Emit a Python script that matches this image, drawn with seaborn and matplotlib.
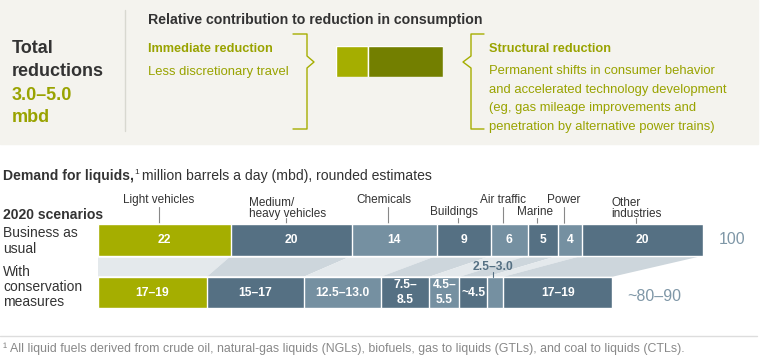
import matplotlib
matplotlib.use("Agg")
import matplotlib.pyplot as plt
import seaborn as sns
import numpy as np
from matplotlib.patches import Rectangle, Polygon

# ---- data ----
sectors = ["Light vehicles", "Medium/\nheavy vehicles", "Chemicals", "Buildings",
           "Air traffic", "Marine", "Power", "Other\nindustries"]
bau_values = [22, 20, 14, 9, 6, 5, 4, 20]
bau_labels = ["22", "20", "14", "9", "6", "5", "4", "20"]
cons_values = [18, 16, 12.75, 8, 5, 4.5, 2.75, 18]   # midpoints of the ranges
cons_labels = ["17–19", "15–17", "12.5–13.0", "7.5–\n8.5", "4.5–\n5.5", "~4.5", "2.5–3.0", "17–19"]
rows = ["Business as\nusual", "With\nconservation\nmeasures"]
totals = ["100", "~80–90"]
contrib_share = [30, 70]  # immediate vs structural, share of reduction

# ---- style ----
GREEN = "#a5ae00"
OLIVE = "#737f00"
DARK = "#557083"
LIGHT = "#7590a1"
CONN_DARK = "#cdd6dc"
CONN_LIGHT = "#e4e9ec"
TXT = "#333333"
GTXT = "#99a300"
seg_colors = [GREEN, DARK, LIGHT, DARK, LIGHT, DARK, LIGHT, DARK]
conn_colors = [CONN_LIGHT, CONN_DARK, CONN_LIGHT, CONN_DARK, CONN_LIGHT, CONN_DARK, CONN_LIGHT, CONN_DARK]

sns.set_theme(style="white")
plt.rcParams["font.family"] = ["Liberation Sans", "DejaVu Sans"]

fig = plt.figure(figsize=(7.6, 3.6), dpi=100)
ax = fig.add_axes([0, 0, 1, 1])
ax.set_xlim(0, 760)
ax.set_ylim(360, 0)
ax.axis("off")

# ---- top panel ----
ax.add_patch(Rectangle((0, 0), 758, 144, color="#f4f3ee", zorder=0))
ax.plot([125, 125], [10, 131], color="#d8d8d0", lw=1)

ax.text(12, 53, "Total", fontsize=13, fontweight="bold", color=TXT, va="baseline")
ax.text(12, 76.5, "reductions", fontsize=13, fontweight="bold", color=TXT, va="baseline")
ax.text(12, 100, "3.0–5.0", fontsize=13, fontweight="bold", color=GTXT, va="baseline")
ax.text(12, 122.5, "mbd", fontsize=13, fontweight="bold", color=GTXT, va="baseline")

ax.text(148, 24, "Relative contribution to reduction in consumption", fontsize=10.2,
        fontweight="bold", color=TXT, va="baseline")
ax.text(148, 52, "Immediate reduction", fontsize=9.2, fontweight="bold", color=GTXT, va="baseline")
ax.text(148, 74.5, "Less discretionary travel", fontsize=9.4, color=GTXT, va="baseline")

ax.text(489, 52, "Structural reduction", fontsize=9.2, fontweight="bold", color=GTXT, va="baseline")
desc = ["Permanent shifts in consumer behavior",
        "and accelerated technology development",
        "(eg, gas mileage improvements and",
        "penetration by alternative power trains)"]
for i, line in enumerate(desc):
    ax.text(489, 74.5 + i * 18.4, line, fontsize=9.4, color=GTXT, va="baseline")

ax.plot([293, 307, 307, 314, 307, 307, 293], [34, 34, 56, 62, 68, 129, 129], color=GREEN, lw=1)
ax.plot([484, 471, 471, 463, 471, 471, 484], [34, 34, 56, 62, 68, 129, 129], color=GREEN, lw=1)

ax_c = fig.add_axes([336 / 760, (360 - 77) / 360, 107 / 760, 31 / 360])
ax_c.barh([0], [contrib_share[0]], left=0, height=1, color=GREEN, edgecolor="white", linewidth=1)
ax_c.barh([0], [contrib_share[1]], left=contrib_share[0], height=1, color=OLIVE,
          edgecolor="white", linewidth=1)
ax_c.set_xlim(0, 100)
ax_c.set_ylim(-0.5, 0.5)
ax_c.axis("off")

# ---- title of lower chart ----
t1 = ax.text(3, 180, "Demand for liquids,", fontsize=10.1, fontweight="bold", color=TXT, va="baseline")
ax.annotate("1", xy=(1, 1), xycoords=t1, fontsize=6, color=TXT, va="top", ha="left",
            xytext=(0, 0), textcoords="offset points")
ax.annotate(" million barrels a day (mbd), rounded estimates", xy=(1, 0), xycoords=t1,
            fontsize=10.1, color=TXT, va="bottom", ha="left", xytext=(3, 0), textcoords="offset points")

ax.text(3, 219, "2020 scenarios", fontsize=10.1, fontweight="bold", color=TXT, va="baseline")
ax.text(3, 241, rows[0], fontsize=10, color=TXT, va="center", linespacing=1.1)
ax.text(3, 287, rows[1], fontsize=10, color=TXT, va="center", linespacing=1.1)

# ---- stacked bars (seaborn, cumulative overdraw) ----
ax_b = fig.add_axes([98 / 760, (360 - 318.75) / 360, 605 / 760, 105 / 360])
cum_bau = np.cumsum(bau_values)
cum_cons = np.cumsum(cons_values)
start_bau = cum_bau - np.array(bau_values)
start_cons = cum_cons - np.array(cons_values)

for j in reversed(range(len(sectors))):
    sns.barplot(x=[cum_bau[j], cum_cons[j]], y=["bau", "cons"], orient="h",
                color=seg_colors[j], saturation=1, width=0.6, edgecolor="white",
                linewidth=1, errorbar=None, ax=ax_b, zorder=3)

# connectors between rows
for j in range(len(sectors)):
    poly = Polygon([(start_bau[j], 0.3), (cum_bau[j], 0.3), (cum_cons[j], 0.7), (start_cons[j], 0.7)],
                   closed=True, facecolor=conn_colors[j], edgecolor="none", zorder=1)
    ax_b.add_patch(poly)

ax_b.set_xlim(0, 100)
ax_b.set_ylim(1.5, -0.5)
ax_b.axis("off")

# values inside bars
for j in range(len(sectors)):
    ax_b.text(start_bau[j] + bau_values[j] / 2, 0, bau_labels[j], ha="center", va="center",
              color="white", fontsize=8.7, fontweight="bold", zorder=5)
    xc = start_cons[j] + cons_values[j] / 2
    if sectors[j] == "Power":
        ax_b.text(xc - 0.3, 0.52, cons_labels[j], ha="center", va="center", color=DARK,
                  fontsize=8.7, fontweight="bold", zorder=5)
        ax_b.plot([xc - 0.3, xc - 0.3], [0.6, 0.7], color=DARK, lw=0.8, zorder=4)
    else:
        ax_b.text(xc, 1, cons_labels[j], ha="center", va="center", color="white",
                  fontsize=8.7, fontweight="bold", zorder=5, linespacing=1.3)

# sector labels above top bar: (level, dx, ha)
label_style = [(0, 0, "center"), (1, -6.1, "left"), (0, -0.7, "center"), (1, -0.6, "center"),
               (0, 0, "center"), (1, -0.2, "center"), (0, 0, "center"), (1, -4.1, "left")]
for j, name in enumerate(sectors):
    xt = start_bau[j] + bau_values[j] / 2 - 1
    level, dx, ha = label_style[j]
    if "\n" in name:
        y_txt, y_tick = -0.6, -0.41
    else:
        y_txt = -0.77 if level == 0 else -0.54
        y_tick = -0.63 if level == 0 else -0.41
    ax_b.text(xt + dx, y_txt, name, ha=ha, va="center", fontsize=8.5, color=TXT,
              linespacing=0.95, clip_on=False)
    ax_b.plot([xt, xt], [y_tick, -0.3], color="#888888", lw=0.8, clip_on=False)

# totals
ax_b.annotate(totals[0], xy=(cum_bau[-1], 0), xytext=(16, 0), textcoords="offset pixels",
              ha="left", va="center", fontsize=11.5, color="#7f97a7", annotation_clip=False)
ax_b.annotate(totals[1], xy=(cum_cons[-1], 1), xytext=(15, -4), textcoords="offset pixels",
              ha="left", va="center", fontsize=11.5, color="#7f97a7", annotation_clip=False)

# ---- footnote ----
ax.plot([0, 757], [336, 336], color="#dddddd", lw=1)
ax.text(3, 352, "¹ All liquid fuels derived from crude oil, natural-gas liquids (NGLs), biofuels, "
        "gas to liquids (GTLs), and coal to liquids (CTLs).", fontsize=8.9, color="#888888",
        va="baseline")

fig.savefig("out.png", dpi=100)
